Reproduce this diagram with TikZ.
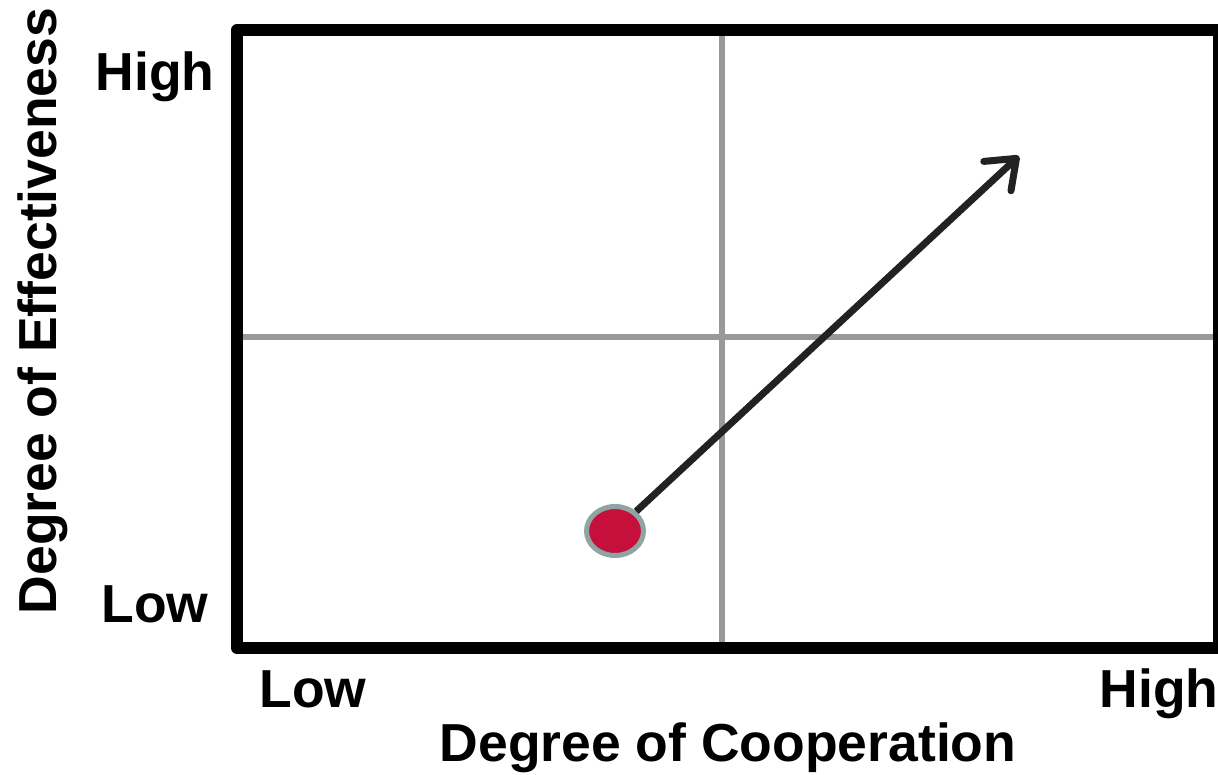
\documentclass[tikz,border=0pt]{standalone}
\usepackage{fontspec}
\setmainfont{Liberation Sans}
\usetikzlibrary{arrows.meta,shapes.geometric}
\definecolor{gridgray}{HTML}{999999}
\definecolor{dotred}{HTML}{C4103A}
\definecolor{dotrim}{HTML}{8FA5A5}
\definecolor{arrowdark}{HTML}{222222}
\begin{document}
\begin{tikzpicture}[x=1pt,y=-1pt,
  lbl/.style={font=\fontsize{53.5}{60}\selectfont\bfseries, inner sep=0pt, anchor=base, text=black},
  gridline/.style={draw=gridgray, line width=6pt},
  frame/.style={draw=black, line width=12pt, line join=round},
  dotstyle/.style={ellipse, fill=dotred, draw=dotrim, line width=5pt, minimum width=57pt, minimum height=49pt, inner sep=0pt},
  pointer/.style={draw=arrowdark, line width=7pt, -{Straight Barb[length=26pt,width=40pt,line cap=round,line join=round]}}
]
\useasboundingbox (0,0) rectangle (1218,775);
% grid lines
\coordinate (vtop) at (722,30);
\coordinate (vbot) at (722,648);
\coordinate (hleft) at (237,337);
\coordinate (hright) at (1219,337);
\draw[gridline] (vtop) -- (vbot);
\draw[gridline] (hleft) -- (hright);
% frame
\draw[frame] (237,30) rectangle (1219,648);
% dot and arrow
\node[dotstyle] (dot) at (615,531) {};
\coordinate (tip) at (1019,156);
\draw[pointer] (dot) -- (tip);
% labels
\node[lbl] (yhigh) at (155,91) {High};
\node[lbl] (ylow) at (155,622) {Low};
\node[lbl] (xlow) at (313,707) {Low};
\node[lbl] (xhigh) at (1159,707) {High};
\node[lbl] (xtitle) at (728,761) {Degree of Cooperation};
\node[lbl, rotate=90] (ytitle) at (56,311) {Degree of Effectiveness};
\end{tikzpicture}
\end{document}
